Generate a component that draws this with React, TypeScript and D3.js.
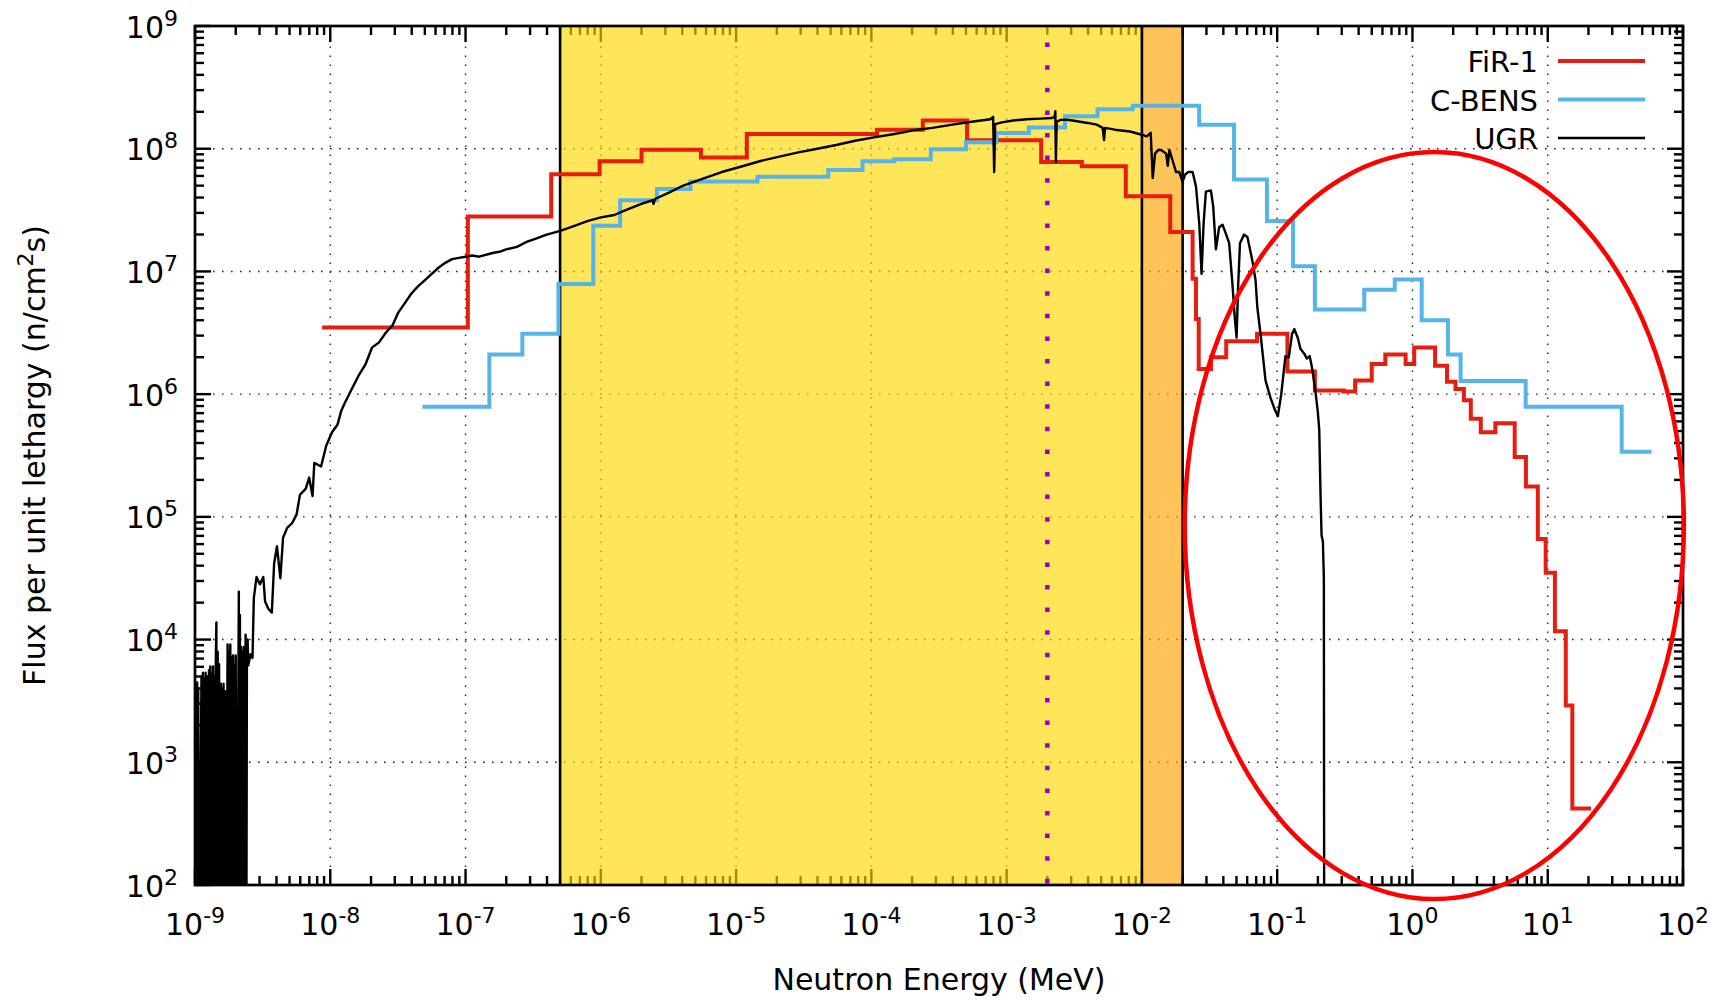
import React from 'react';
import * as d3 from 'd3';

// ---------- data ----------
const xExponents = [-9, -8, -7, -6, -5, -4, -3, -2, -1, 0, 1, 2];
const yExponents = [2, 3, 4, 5, 6, 7, 8, 9];

// FiR-1 (histogram: bin edges in MeV, flux per unit lethargy)
const firEdges = [8.7e-9, 1.04e-7, 4.3e-7, 9.8e-7, 2.0e-6, 5.5e-6, 1.2e-5, 1.1e-4, 2.4e-4, 5.1e-4, 1.8e-3, 3.6e-3, 7.6e-3, 1.62e-2, 2.37e-2, 2.51e-2, 2.63e-2, 3.24e-2, 4.2e-2, 7.1e-2, 0.119, 0.19, 0.31, 0.377, 0.5, 0.63, 0.89, 1.03, 1.47, 1.8, 2.08, 2.4, 2.7, 3.2, 4.1, 5.7, 6.9, 8.45, 9.66, 11.3, 13.6, 15.2, 20.9];
const firFlux = [3.5e6, 2.8e7, 6.2e7, 7.9e7, 9.8e7, 8.5e7, 1.32e8, 1.43e8, 1.7e8, 1.17e8, 7.8e7, 7.2e7, 4.1e7, 2.1e7, 8.7e6, 4.1e6, 1.6e6, 2.0e6, 2.7e6, 3.1e6, 1.53e6, 1.07e6, 1.05e6, 1.29e6, 1.76e6, 2.1e6, 1.76e6, 2.4e6, 1.7e6, 1.26e6, 1.1e6, 8.9e5, 6.3e5, 4.9e5, 5.8e5, 3.07e5, 1.77e5, 6.6e4, 3.5e4, 1.17e4, 2.9e3, 4.2e2];

// C-BENS (histogram)
const cbensEdges = [4.8e-8, 1.5e-7, 2.63e-7, 4.86e-7, 8.8e-7, 1.39e-6, 2.6e-6, 4.6e-6, 1.44e-5, 4.8e-5, 8.6e-5, 1.48e-4, 2.75e-4, 5.0e-4, 8.4e-4, 1.46e-3, 2.7e-3, 4.7e-3, 8.55e-3, 2.65e-2, 4.8e-2, 8.4e-2, 0.131, 0.19, 0.44, 0.74, 1.17, 1.83, 2.27, 6.87, 35.2, 58.5];
const cbensFlux = [7.9e5, 2.1e6, 3.1e6, 7.9e6, 2.36e7, 3.8e7, 4.7e7, 5.4e7, 5.9e7, 6.7e7, 7.9e7, 8.2e7, 9.9e7, 1.13e8, 1.34e8, 1.49e8, 1.84e8, 2.1e8, 2.24e8, 1.57e8, 5.6e7, 2.57e7, 1.1e7, 4.9e6, 7.1e6, 8.6e6, 4.0e6, 2.1e6, 1.28e6, 7.9e5, 3.4e5];

// UGR (continuous spectrum): [log10 energy (MeV), log10 flux]; log flux 1 lies below the axis
const ugrPoints: [number, number][] = [
  [-9.0, 3.65], [-8.996, 1], [-8.992, 3.62], [-8.988, 1], [-8.984, 3.65], [-8.98, 1], [-8.976, 3.6], [-8.972, 1],
  [-8.952, 3.7], [-8.947, 1], [-8.942, 3.73], [-8.937, 1], [-8.932, 3.68], [-8.927, 1], [-8.922, 3.73], [-8.917, 1], [-8.912, 3.7], [-8.907, 1],
  [-8.897, 3.75], [-8.892, 1], [-8.887, 3.78], [-8.882, 1], [-8.877, 3.72], [-8.872, 1], [-8.867, 3.78], [-8.862, 1], [-8.857, 3.7], [-8.852, 1], [-8.847, 3.76],
  [-8.842, 4.14], [-8.837, 1], [-8.832, 3.9], [-8.827, 1], [-8.822, 3.8], [-8.817, 1],
  [-8.809, 3.64], [-8.804, 1], [-8.799, 3.6], [-8.794, 1], [-8.789, 3.64], [-8.784, 1], [-8.779, 3.58], [-8.774, 1],
  [-8.759, 3.96], [-8.754, 1], [-8.749, 3.9], [-8.744, 1], [-8.739, 3.96], [-8.734, 1], [-8.729, 3.85], [-8.724, 1],
  [-8.719, 3.87], [-8.714, 1], [-8.709, 3.8], [-8.704, 1], [-8.699, 3.87], [-8.694, 1],
  [-8.679, 3.7], [-8.676, 4.39], [-8.672, 1], [-8.668, 4.2], [-8.664, 1],
  [-8.658, 3.94], [-8.653, 1], [-8.648, 3.9], [-8.643, 1], [-8.638, 3.94], [-8.633, 1],
  [-8.626, 4.04], [-8.621, 1], [-8.616, 3.95], [-8.611, 4.0], [-8.606, 3.79], [-8.59, 3.88], [-8.575, 3.85], [-8.565, 4.34],
  [-8.545, 4.51], [-8.52, 4.45], [-8.495, 4.51], [-8.482, 4.31], [-8.457, 4.25], [-8.432, 4.22], [-8.415, 4.62], [-8.394, 4.76],
  [-8.369, 4.5], [-8.349, 4.83], [-8.319, 4.91], [-8.281, 4.95], [-8.249, 5.02], [-8.224, 5.18], [-8.181, 5.23], [-8.156, 5.32],
  [-8.131, 5.17], [-8.118, 5.44], [-8.068, 5.41], [-8.03, 5.58], [-7.987, 5.69], [-7.947, 5.75], [-7.92, 5.86], [-7.892, 5.93],
  [-7.842, 6.04], [-7.791, 6.15], [-7.741, 6.24], [-7.691, 6.38], [-7.641, 6.42], [-7.59, 6.5], [-7.54, 6.56], [-7.5, 6.66],
  [-7.45, 6.74], [-7.4, 6.82], [-7.35, 6.88], [-7.3, 6.93], [-7.25, 6.98], [-7.2, 7.03], [-7.15, 7.07], [-7.1, 7.1],
  [-7.05, 7.11], [-7.0, 7.12], [-6.95, 7.13], [-6.9, 7.12], [-6.8, 7.15], [-6.75, 7.16], [-6.7, 7.18], [-6.62, 7.2],
  [-6.55, 7.24], [-6.5, 7.26], [-6.4, 7.3], [-6.3, 7.33], [-6.2, 7.37], [-6.1, 7.41], [-6.0, 7.44], [-5.9, 7.46],
  [-5.816, 7.5], [-5.7, 7.55], [-5.617, 7.58], [-5.61, 7.55], [-5.6, 7.59], [-5.5, 7.64], [-5.39, 7.7], [-5.25, 7.755],
  [-5.106, 7.81], [-4.96, 7.855], [-4.82, 7.9], [-4.68, 7.935], [-4.54, 7.97], [-4.4, 8.0], [-4.26, 8.03], [-4.12, 8.065],
  [-3.97, 8.095], [-3.83, 8.12], [-3.69, 8.15], [-3.55, 8.17], [-3.4, 8.196], [-3.26, 8.22], [-3.12, 8.24], [-3.1, 8.26],
  [-3.092, 7.81], [-3.085, 8.2], [-3.035, 8.215], [-2.95, 8.23], [-2.85, 8.24], [-2.75, 8.245], [-2.667, 8.25], [-2.645, 8.26],
  [-2.64, 8.305], [-2.636, 7.89], [-2.63, 8.22], [-2.6, 8.235], [-2.556, 8.236], [-2.5, 8.228], [-2.458, 8.22], [-2.4, 8.21],
  [-2.334, 8.196], [-2.29, 8.17], [-2.28, 8.07], [-2.272, 8.17], [-2.2, 8.155], [-2.088, 8.14], [-2.02, 8.12], [-1.964, 8.1],
  [-1.935, 8.13], [-1.92, 7.76], [-1.903, 7.96], [-1.88, 7.99], [-1.858, 7.99], [-1.821, 7.96], [-1.809, 7.86], [-1.797, 7.99],
  [-1.772, 7.9], [-1.748, 7.81], [-1.723, 7.81], [-1.7, 7.73], [-1.68, 7.79], [-1.657, 7.81], [-1.625, 7.81], [-1.6, 7.69],
  [-1.576, 7.39], [-1.559, 6.98], [-1.544, 7.39], [-1.527, 7.65], [-1.49, 7.66], [-1.473, 7.53], [-1.453, 7.18], [-1.429, 7.36],
  [-1.404, 7.38], [-1.38, 7.31], [-1.355, 7.23], [-1.331, 6.9], [-1.314, 6.63], [-1.3, 6.46], [-1.289, 6.87], [-1.275, 7.23],
  [-1.245, 7.3], [-1.22, 7.28], [-1.184, 7.09], [-1.16, 6.93], [-1.147, 6.71], [-1.123, 6.49], [-1.086, 6.11], [-1.049, 5.97],
  [-1.02, 5.88], [-0.995, 5.82], [-0.97, 6.0], [-0.951, 6.19], [-0.939, 6.31], [-0.914, 6.3], [-0.89, 6.49], [-0.873, 6.53],
  [-0.848, 6.46], [-0.828, 6.37], [-0.8, 6.33], [-0.78, 6.29], [-0.76, 6.31], [-0.743, 6.22], [-0.718, 6.03], [-0.7, 5.86],
  [-0.689, 5.71], [-0.68, 5.2], [-0.672, 4.85], [-0.662, 4.8], [-0.655, 4.5], [-0.652, 1],
];

// shaded energy bands (MeV) and the reference line
const epithermalBand = [5e-7, 1e-2];
const intermediateBand = [1e-2, 2e-2];
const markerEnergy = 2e-3;

// annotation ellipse (data space): centre and half-axes in decades
const ellipseCentre = { energy: 1.45, flux: 8.5e4 };
const ellipseHalfDecades = { energy: 1.845, flux: 3.044 };

const legendItems = [
  { label: 'FiR-1', color: '#e51e10', width: 4 },
  { label: 'C-BENS', color: '#56b4e9', width: 4 },
  { label: 'UGR', color: '#000000', width: 2.5 },
];

// ---------- layout ----------
const W = 1711;
const H = 1000;
const M = { left: 195, right: 1683, top: 26, bottom: 885 };
const FONT = 'DejaVu Sans';

export default function App() {
  const x = d3.scaleLog().domain([1e-9, 1e2]).range([M.left, M.right]);
  const y = d3.scaleLog().domain([1e2, 1e9]).range([M.bottom, M.top]);

  const line = d3
    .line<[number, number]>()
    .x((d) => x(d[0]))
    .y((d) => y(d[1]));

  const stepPts = (edges: number[], vals: number[]) => {
    const pts: [number, number][] = [];
    vals.forEach((v, i) => {
      pts.push([edges[i], v]);
      pts.push([edges[i + 1], v]);
    });
    return pts;
  };

  const firPath = line(stepPts(firEdges, firFlux)) || '';
  const cbensPath = line(stepPts(cbensEdges, cbensFlux)) || '';
  const ugrPath = line(ugrPoints.map(([e, f]) => [Math.pow(10, e), Math.pow(10, f)] as [number, number])) || '';

  const xMajor = xExponents.map((e) => Math.pow(10, e));
  const yMajor = yExponents.map((e) => Math.pow(10, e));
  const xMinor: number[] = [];
  xExponents.slice(0, -1).forEach((e) => {
    for (let k = 2; k <= 9; k++) xMinor.push(k * Math.pow(10, e));
  });
  const yMinor: number[] = [];
  yExponents.slice(0, -1).forEach((e) => {
    for (let k = 2; k <= 9; k++) yMinor.push(k * Math.pow(10, e));
  });

  const majorLen = 16;
  const minorLen = 9;

  const ex = Math.log10(ellipseCentre.energy);
  const ey = Math.log10(ellipseCentre.flux);
  const ecx = x(ellipseCentre.energy);
  const ecy = y(ellipseCentre.flux);
  const erx = x(Math.pow(10, ex + ellipseHalfDecades.energy)) - ecx;
  const ery = ecy - y(Math.pow(10, ey + ellipseHalfDecades.flux));

  const legendTextX = 1538;
  const legendLine = [1558, 1645];
  const legendY0 = 61;
  const legendDy = 38.5;

  return (
    <svg
      width={W}
      height={H}
      style={{ position: 'absolute', left: 0, top: 0, display: 'block', background: '#fff' }}
      fontFamily={FONT}
    >
      <defs>
        <clipPath id="plotClip">
          <rect x={M.left} y={M.top} width={M.right - M.left} height={M.bottom - M.top} />
        </clipPath>
      </defs>
      <rect x={0} y={0} width={W} height={H} fill="#fff" />

      {/* grid */}
      <g stroke="#000" strokeWidth={1.4} strokeDasharray="1.6 7.4" opacity={0.85}>
        {xMajor.slice(1, -1).map((v) => (
          <line key={'gx' + v} x1={x(v)} x2={x(v)} y1={M.bottom} y2={M.top} />
        ))}
        {yMajor.slice(1, -1).map((v) => (
          <line key={'gy' + v} x1={M.left} x2={M.right} y1={y(v)} y2={y(v)} />
        ))}
      </g>

      {/* ticks on all four sides */}
      <g stroke="#000" strokeWidth={2.4}>
        {xMajor.map((v) => (
          <g key={'xt' + v}>
            <line x1={x(v)} x2={x(v)} y1={M.bottom} y2={M.bottom - majorLen} />
            <line x1={x(v)} x2={x(v)} y1={M.top} y2={M.top + majorLen} />
          </g>
        ))}
        {xMinor.map((v) => (
          <g key={'xm' + v}>
            <line x1={x(v)} x2={x(v)} y1={M.bottom} y2={M.bottom - minorLen} />
            <line x1={x(v)} x2={x(v)} y1={M.top} y2={M.top + minorLen} />
          </g>
        ))}
        {yMajor.map((v) => (
          <g key={'yt' + v}>
            <line x1={M.left} x2={M.left + majorLen} y1={y(v)} y2={y(v)} />
            <line x1={M.right} x2={M.right - majorLen} y1={y(v)} y2={y(v)} />
          </g>
        ))}
        {yMinor.map((v) => (
          <g key={'ym' + v}>
            <line x1={M.left} x2={M.left + minorLen} y1={y(v)} y2={y(v)} />
            <line x1={M.right} x2={M.right - minorLen} y1={y(v)} y2={y(v)} />
          </g>
        ))}
      </g>

      {/* shaded bands */}
      <rect
        x={x(epithermalBand[0])}
        y={M.top}
        width={x(epithermalBand[1]) - x(epithermalBand[0])}
        height={M.bottom - M.top}
        fill="#ffd700"
        fillOpacity={0.65}
      />
      <rect
        x={x(intermediateBand[0])}
        y={M.top}
        width={x(intermediateBand[1]) - x(intermediateBand[0])}
        height={M.bottom - M.top}
        fill="#ffa500"
        fillOpacity={0.65}
      />
      <g stroke="#000" strokeWidth={2.6}>
        {[epithermalBand[0], intermediateBand[0], intermediateBand[1]].map((v) => (
          <line key={'be' + v} x1={x(v)} x2={x(v)} y1={M.top} y2={M.bottom} />
        ))}
      </g>

      {/* reference energy */}
      <line
        x1={x(markerEnergy)}
        x2={x(markerEnergy)}
        y1={M.top}
        y2={M.bottom}
        stroke="#9400d3"
        strokeWidth={4.5}
        strokeDasharray="4.5 18.1"
        strokeDashoffset={6}
      />

      {/* data */}
      <g clipPath="url(#plotClip)" fill="none">
        <path d={firPath} stroke="#e51e10" strokeWidth={4} />
        <path d={cbensPath} stroke="#56b4e9" strokeWidth={4} />
        <path d={ugrPath} stroke="#000" strokeWidth={2.4} strokeLinejoin="round" />
      </g>

      {/* border */}
      <rect
        x={M.left}
        y={M.top}
        width={M.right - M.left}
        height={M.bottom - M.top}
        fill="none"
        stroke="#000"
        strokeWidth={2.7}
      />

      {/* tick labels */}
      <g fontSize={30} fill="#000">
        {xExponents.map((e) => (
          <text key={'xl' + e} x={x(Math.pow(10, e))} y={935} textAnchor="middle">
            10
            <tspan dy={-12} fontSize={22}>
              {e}
            </tspan>
          </text>
        ))}
        {yExponents.map((e) => (
          <text key={'yl' + e} x={178} y={y(Math.pow(10, e)) + 11.5} textAnchor="end">
            10
            <tspan dy={-12} fontSize={22}>
              {e}
            </tspan>
          </text>
        ))}
      </g>

      {/* axis titles */}
      <text x={(M.left + M.right) / 2} y={990} textAnchor="middle" fontSize={30}>
        Neutron Energy (MeV)
      </text>
      <text transform="rotate(-90)" x={-(M.top + M.bottom) / 2} y={45} textAnchor="middle" fontSize={30}>
        Flux per unit lethargy (n/cm
        <tspan dy={-12} fontSize={22}>
          2
        </tspan>
        <tspan dy={12}>s)</tspan>
      </text>

      {/* legend */}
      {legendItems.map((it, i) => {
        const ly = legendY0 + i * legendDy;
        return (
          <g key={it.label}>
            <text x={legendTextX} y={ly + 11} textAnchor="end" fontSize={29}>
              {it.label}
            </text>
            <line x1={legendLine[0]} x2={legendLine[1]} y1={ly} y2={ly} stroke={it.color} strokeWidth={it.width} />
          </g>
        );
      })}

      {/* annotation ellipse */}
      <ellipse cx={ecx} cy={ecy} rx={erx} ry={ery} fill="none" stroke="#ff0000" strokeWidth={4.5} />
    </svg>
  );
}
